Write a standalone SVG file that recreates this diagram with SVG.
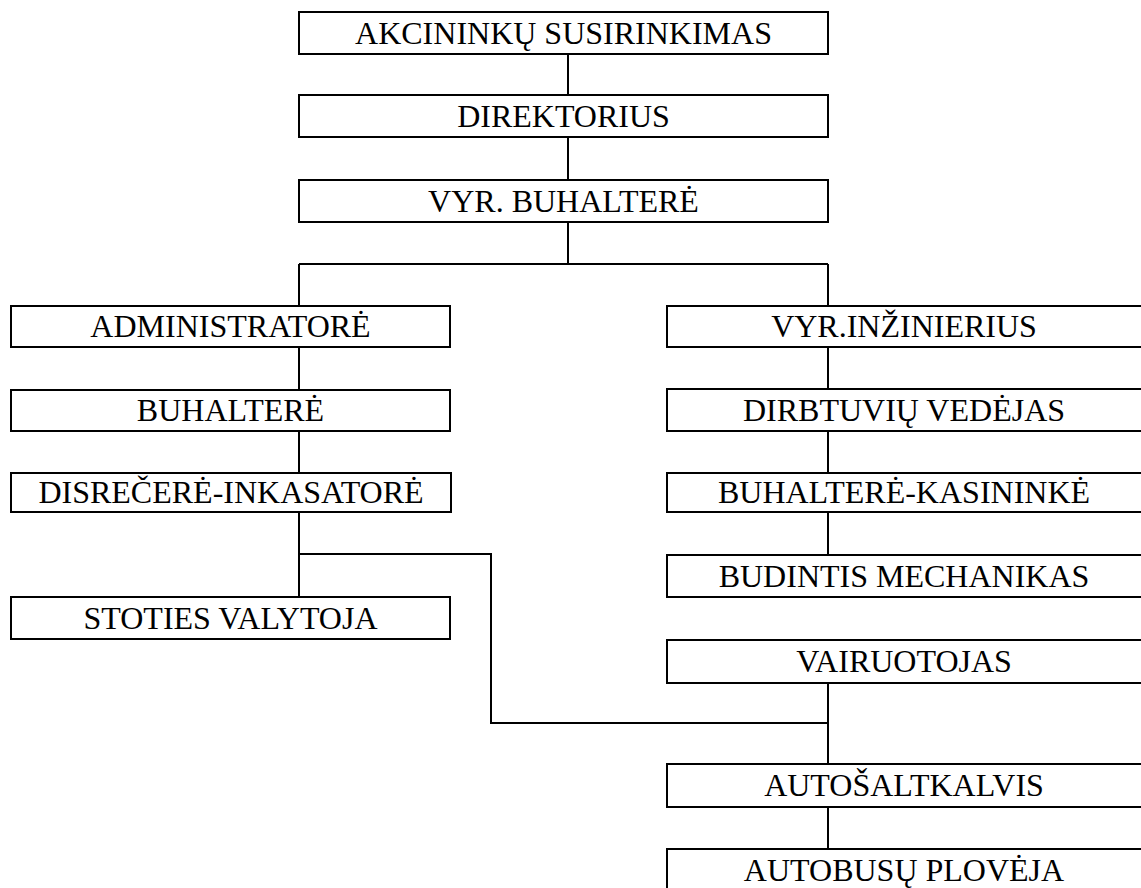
<svg xmlns="http://www.w3.org/2000/svg" width="1141" height="888" viewBox="0 0 1141 888">
<style>
rect{fill:#fff;stroke:#000;stroke-width:2}
text{fill:#000;text-anchor:middle}
#connectors path{fill:none;stroke:#000;stroke-width:2}
</style>
<rect x="0" y="0" width="1141" height="888" style="stroke:none"/>
<g id="connectors">
<path d="M568 54V95M568 137V180M568 222V264M299 264H828M299 264V306M828 264V306"/>
<path d="M299 347V390M299 431V473M299 512V597M299 554H491V723H828"/>
<path d="M828 347V389M828 431V473M828 512V555M828 683V764M828 807V849"/>
</g>
<g font-family="Liberation Serif, Tinos, Times New Roman, DejaVu Serif, serif" font-size="32">
<g id="n1"><rect x="299" y="12" width="529" height="42"/><text x="563.5" y="44">AKCININKŲ SUSIRINKIMAS</text></g>
<g id="n2"><rect x="299" y="95" width="529" height="42"/><text x="563.5" y="127">DIREKTORIUS</text></g>
<g id="n3"><rect x="299" y="180" width="529" height="42"/><text x="563.5" y="212">VYR. BUHALTERĖ</text></g>
<g id="n4"><rect x="11" y="306" width="439" height="41"/><text x="230.5" y="337">ADMINISTRATORĖ</text></g>
<g id="n5"><rect x="11" y="390" width="439" height="41"/><text x="230.5" y="421">BUHALTERĖ</text></g>
<g id="n6"><rect x="11" y="473" width="440" height="39"/><text x="231" y="503">DISREČERĖ-INKASATORĖ</text></g>
<g id="n7"><rect x="11" y="597" width="439" height="42"/><text x="230.5" y="629">STOTIES VALYTOJA</text></g>
<g id="n8"><rect x="667" y="306" width="476" height="41"/><text x="904" y="337">VYR.INŽINIERIUS</text></g>
<g id="n9"><rect x="667" y="389" width="476" height="42"/><text x="904" y="421">DIRBTUVIŲ VEDĖJAS</text></g>
<g id="n10"><rect x="667" y="473" width="476" height="39"/><text x="904" y="503">BUHALTERĖ-KASININKĖ</text></g>
<g id="n11"><rect x="667" y="555" width="476" height="42"/><text x="904" y="587">BUDINTIS MECHANIKAS</text></g>
<g id="n12"><rect x="667" y="640" width="476" height="43"/><text x="904" y="672">VAIRUOTOJAS</text></g>
<g id="n13"><rect x="667" y="764" width="476" height="43"/><text x="904" y="796">AUTOŠALTKALVIS</text></g>
<g id="n14"><rect x="667" y="849" width="476" height="43"/><text x="904" y="881">AUTOBUSŲ PLOVĖJA</text></g>
</g>
</svg>
